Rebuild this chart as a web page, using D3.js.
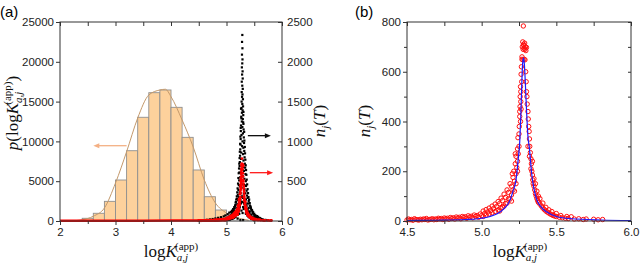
<!DOCTYPE html>
<html>
<head>
<meta charset="utf-8">
<script src="https://cdn.jsdelivr.net/npm/d3@7/dist/d3.min.js"></script>
<style>
  body { margin: 0; background: #fff; }
  svg { display: block; }
  .tick text { font-family: "Liberation Sans", Arial, sans-serif; font-size: 11.5px; fill: #222; }
  .title { font-family: "Liberation Serif", "Times New Roman", serif; font-size: 17px; fill: #111; }
</style>
</head>
<body>
<svg id="chart" width="640" height="269"></svg>
<script>
// ---- panel (a): histogram of logK (left axis) ----
var binStart = [2.4, 2.6, 2.8, 3.0, 3.2, 3.4, 3.6, 3.8, 4.0, 4.2, 4.4, 4.6, 4.8];
var binCount = [340, 970, 2470, 5150, 8830, 13030, 16120, 16460, 14280, 10510, 6410, 3050, 1380];
var binWidth = 0.2;

// fitted distribution drawn over the histogram
var fitX = [2.2, 2.4, 2.6, 2.8, 3.0, 3.2, 3.4, 3.6, 3.8, 3.9, 4.0, 4.2, 4.4, 4.6, 4.8, 5.0, 5.2, 5.4];
var fitY = [20, 150, 600, 1630, 4770, 8700, 12940, 15830, 16460, 16550, 15620, 12690, 9300, 5150, 2260, 1000, 400, 100];

// n_j(T) for all pairs, black dots (right axis)
var blackPts = [
  [5.285,2337],[5.280,2250],[5.287,2170],[5.279,2090],[5.288,2030],[5.284,1980],[5.277,1930],[5.290,1880],
  [5.281,1840],[5.292,1790],[5.275,1750],[5.284,1700],[5.293,1660],[5.274,1620],[5.288,1590],[5.280,1560],
  [5.296,1530],[5.272,1500],[5.285,1470],[5.298,1440],[5.270,1420],[5.290,1390],[5.278,1360],[5.302,1330],
  [5.266,1310],[5.294,1280],[5.276,1250],[5.305,1220],[5.262,1200],[5.286,1180],[5.308,1150],[5.258,1130],
  [5.296,1100],[5.270,1080],[5.312,1050],[5.255,1030],[5.288,1000],[5.316,980],[5.252,960],[5.280,940],
  [5.304,920],[5.248,900],[5.320,880],[5.266,860],[5.298,840],[5.244,820],[5.326,800],[5.262,780],
  [5.306,760],[5.240,740],[5.330,720],[5.275,700],[5.236,690],[5.336,670],[5.258,650],[5.314,630],
  [5.232,610],[5.342,590],[5.285,570],[5.248,550],[5.322,530],[5.228,510],[5.348,500],[5.268,480],
  [5.302,460],[5.222,450],[5.352,440],[5.258,420],[5.322,400],[5.214,390],[5.362,380],[5.238,360],
  [5.340,350],[5.205,330],[5.370,320],[5.280,310],[5.225,300],[5.380,290],[5.190,280],[5.350,270],
  [5.210,260],[5.400,250],[5.170,240],[5.310,230],[5.385,220],[5.195,210],[5.160,200],[5.420,195],
  [5.360,185],[5.140,175],[5.230,170],[5.400,165],[5.180,160],[5.440,155],[5.120,150],[5.380,145],
  [5.200,140],[5.460,135],[5.100,130],[5.150,125],[5.420,120],[5.080,115],[5.480,110],[5.050,105],
  [5.350,100],[5.130,95],[5.500,90],[5.020,85],[5.450,80],[5.180,78],[5.520,72],[4.980,70],
  [5.100,66],[5.550,62],[5.400,60],[4.950,58],[5.040,55],[5.570,52],[4.900,48],[5.480,45],
  [5.120,44],[4.850,40],[5.600,38],[5.000,36],[5.530,34],[4.800,32],[5.200,30],[5.620,28],
  [4.920,27],[4.750,25],[5.450,24],[5.650,22],[4.700,20],[5.060,19],[4.880,18],[5.580,16],
  [4.650,15],[5.700,14],[4.820,13],[5.300,12],[4.600,11],[5.750,10],[4.970,10],[4.550,8],
  [5.680,8],[4.720,7],[5.800,6],[4.500,6],[5.500,9],[4.780,9],[5.250,11],
  [5.220,120],[5.240,180],[5.260,220],[5.320,210],[5.340,160],[5.360,130],[5.300,175],[5.280,240],
  [5.250,260],[5.330,250],[5.210,150],[5.190,110],[5.170,90],[5.150,70],[5.130,60],[5.110,50],
  [5.090,42],[5.070,36],[5.050,30],[5.030,26],[5.010,22],[4.990,20],[4.960,17],[4.930,15],
  [4.890,12],[4.860,10],[4.830,8],[4.790,6],[5.370,105],[5.390,85],[5.410,70],[5.430,58],
  [5.460,48],[5.490,40],[5.510,33],[5.540,27],[5.560,22],[5.590,18],[5.630,13],[5.660,10],
  [5.720,7],[5.230,90],[5.270,130],[5.290,100],[5.310,150],[5.350,90],[5.200,75],[5.160,52],
  [5.140,40],[5.120,32],[5.100,28],[5.080,24],[5.060,20],[5.040,16],[5.020,14],[5.380,65],
  [5.400,50],[5.420,40],[5.440,34],[5.470,28],[5.520,20],[5.550,15],[5.610,11],
  [5.262,1410],[5.305,1370],[5.268,1290],[5.300,1240],[5.256,1170],[5.318,1120],[5.250,1060],[5.322,1010],
  [5.246,970],[5.330,930],[5.240,870],[5.334,850],[5.236,790],[5.340,770],[5.230,720],[5.346,700],
  [5.226,660],[5.352,640],[5.220,600],[5.358,580],[5.214,540],[5.364,520],[5.208,470],[5.372,460],
  [5.200,410],[5.380,400],[5.194,360],[5.388,350],[5.186,310],[5.396,300],[5.176,270],[5.408,270],
  [5.166,230],[5.418,225],[5.156,190],[5.430,185],[5.146,160],[5.438,170],[5.132,135],[5.452,140],
  [5.118,112],[5.466,118],[5.104,96],[5.476,98],[5.090,82],[5.490,80],[5.074,70],[5.506,66],
  [5.060,58],[5.522,55],[5.044,48],[5.540,44],[5.028,40],[5.560,34],[5.010,34],[5.580,28],
  [5.236,230],[5.262,300],[5.296,290],[5.318,280],[5.344,220],[5.212,200],[5.226,140],[5.356,200],
  [5.186,120],[5.374,150],[5.170,110],[5.394,120],[5.158,85],[5.412,100],[5.140,88],[5.432,80],
  [5.254,350],[5.272,420],[5.312,340],[5.244,440],[5.326,450],[5.296,560],[5.264,600],[5.300,680]
];

// near-zero n_j(T) over the whole range (red band along the axis in (a))
var redBaseX = [2.0, 2.5, 3.0, 3.5, 4.0, 4.5, 5.0];
var redBaseY = [3, 3, 4, 4, 5, 5, 8];

// ---- panel (b): n_j(T) from simulation (red circles) and fit (blue) ----
var redPts = [
  [4.50,4],[4.51,8],[4.52,5],[4.53,6],[4.54,3],[4.55,9],[4.56,6],[4.57,5],[4.58,4],[4.59,7],
  [4.60,5],[4.61,8],[4.62,6],[4.63,10],[4.64,4],[4.65,6],[4.66,7],[4.67,9],[4.68,5],[4.69,8],
  [4.70,6],[4.71,11],[4.72,8],[4.73,10],[4.74,6],[4.75,12],[4.76,9],[4.77,11],[4.78,7],[4.79,14],
  [4.80,10],[4.81,13],[4.82,8],[4.83,16],[4.84,12],[4.85,15],[4.86,9],[4.87,18],[4.88,14],[4.89,17],
  [4.90,11],[4.91,21],[4.92,16],[4.93,19],[4.94,13],[4.95,24],[4.96,19],[4.97,22],[4.98,15],[4.99,28],
  [5.00,22],[5.01,18],[5.01,40],[5.02,30],[5.03,24],[5.03,46],[5.04,36],[5.05,28],[5.05,52],[5.06,42],
  [5.07,33],[5.07,60],[5.08,50],[5.09,38],[5.09,68],[5.10,58],[5.11,45],[5.11,78],[5.12,70],[5.13,52],
  [5.13,92],[5.14,82],[5.15,60],[5.15,108],[5.16,95],[5.17,72],[5.17,125],[5.18,115],[5.19,88],[5.19,150],
  [5.20,140],[5.20,105],[5.21,175],[5.21,125],[5.215,200],[5.22,160],[5.225,230],[5.23,190],[5.23,260],
  [5.235,215],[5.24,290],[5.24,240],[5.243,335],[5.245,270],[5.25,350],[5.25,300],[5.252,380],[5.255,420],
  [5.255,440],[5.257,460],[5.258,500],[5.26,400],[5.26,540],[5.262,480],[5.262,520],[5.264,590],[5.264,450],
  [5.266,620],[5.268,560],[5.27,650],[5.272,700],[5.275,720],[5.278,690],[5.28,710],[5.283,705],[5.285,695],
  [5.288,715],[5.29,690],[5.293,700],[5.296,685],[5.30,698],[5.279,784],[5.27,660],[5.276,648],[5.284,650],
  [5.29,648],[5.295,600],[5.298,560],[5.30,520],[5.303,500],[5.305,470],[5.31,440],[5.312,410],[5.315,380],
  [5.318,360],[5.32,330],[5.322,300],[5.326,275],[5.33,250],[5.333,230],[5.336,200],[5.34,185],[5.342,165],
  [5.345,150],[5.35,140],[5.355,125],[5.36,110],[5.365,100],[5.37,90],[5.375,82],[5.38,75],[5.39,68],
  [5.40,60],[5.41,52],[5.42,46],[5.43,40],[5.44,36],[5.45,32],[5.46,28],[5.47,25],[5.48,22],[5.49,20],
  [5.50,18],[5.52,15],[5.54,13],[5.56,11],[5.58,10],[5.60,17],[5.62,8],[5.65,9],[5.68,6],[5.70,8],
  [5.75,7],[5.78,5],[5.81,6],[5.31,300],[5.32,260],[5.33,210],[5.34,240],[5.35,170],[5.36,150],[5.37,120],
  [5.38,100],[5.39,90],[5.41,72],[5.43,55],[5.45,45],[5.47,38],[5.50,30],[5.53,22],[5.57,18],
  [5.12,40],[5.14,55],[5.16,70],[5.18,90],[5.20,80],[5.22,120],[5.23,150],[5.24,200],[5.205,190],[5.225,270]
];
var fitBX = [4.5, 4.7, 4.9, 5.0, 5.05, 5.1, 5.15, 5.19, 5.21, 5.23, 5.245, 5.255, 5.262, 5.268, 5.274, 5.28,
             5.286, 5.292, 5.3, 5.31, 5.32, 5.335, 5.35, 5.37, 5.4, 5.435, 5.5, 5.6, 5.8, 6.0];
var fitBY = [2, 3, 6, 11, 17, 28, 50, 84, 120, 165, 250, 320, 420, 540, 630, 656,
             630, 560, 450, 340, 290, 190, 130, 84, 55, 37, 18, 9, 4, 2];

var aXTicks = [2, 3, 4, 5, 6], aXMinor = [2.5, 3.5, 4.5, 5.5];
var aLTicks = [0, 5000, 10000, 15000, 20000, 25000];
var aRTicks = [0, 500, 1000, 1500, 2000, 2500];
var bXTicks = [4.5, 5.0, 5.5, 6.0], bXMinor = [4.75, 5.25, 5.75];
var bYTicks = [0, 200, 400, 600, 800], bYMinor = [100, 300, 500, 700];

var svg = d3.select("#chart");

var xA = d3.scaleLinear().domain([2, 6]).range([60, 282]);
var yL = d3.scaleLinear().domain([0, 25000]).range([221, 22]);
var yR = d3.scaleLinear().domain([0, 2500]).range([221, 22]);

var xB = d3.scaleLinear().domain([4.5, 6.0]).range([407, 631]);
var yB = d3.scaleLinear().domain([0, 800]).range([221, 22]);

var axisStyle = function(g) {
    g.select(".domain").remove();
    g.selectAll(".tick line").attr("stroke", "#333");
    g.attr("font-family", null).attr("font-size", null);
}

var put = function(axis, tx, ty) {
    svg.append("g").attr("transform", "translate(" + tx + "," + ty + ")").call(axis).call(axisStyle);
}

// ---- panel (a) marks ----
var ga = svg.append("g");
ga.selectAll("rect.bar").data(binStart).enter()
    .append("rect")
    .attr("class", "bar")
    .attr("x", function(d) { return xA(d); })
    .attr("width", function(d) { return xA(d + binWidth) - xA(d); })
    .attr("y", function(d, i) { return yL(binCount[i]); })
    .attr("height", function(d, i) { return yL(0) - yL(binCount[i]); })
    .attr("fill", "#fdd19c")
    .attr("stroke", "#8f8f8f")
    .attr("stroke-width", 0.9);

ga.append("path")
    .datum(fitX.map(function(d, i) { return [d, fitY[i]]; }))
    .attr("fill", "none")
    .attr("stroke", "#c4996b")
    .attr("stroke-width", 1)
    .attr("d", d3.line().curve(d3.curveMonotoneX)
        .x(function(d) { return xA(d[0]); })
        .y(function(d) { return yL(d[1]); }));

ga.selectAll("rect.blk").data(blackPts).enter()
    .append("rect")
    .attr("class", "blk")
    .attr("x", function(d) { return xA(d[0]) - 1.1; })
    .attr("y", function(d) { return yR(d[1]) - 1.1; })
    .attr("width", 2.2).attr("height", 2.2)
    .attr("fill", "#000");

ga.append("path")
    .datum(redBaseX.map(function(d, i) { return [d, redBaseY[i]]; }))
    .attr("fill", "none")
    .attr("stroke", "#ff0000")
    .attr("stroke-width", 2.5)
    .attr("d", d3.line()
        .x(function(d) { return xA(d[0]); })
        .y(function(d) { return yR(d[1]); }));

ga.selectAll("circle.red").data(redPts).enter()
    .append("circle")
    .attr("class", "red")
    .attr("cx", function(d) { return xA(d[0]); })
    .attr("cy", function(d) { return yR(d[1]); })
    .attr("r", 1.4)
    .attr("fill", "#ff0000");

// arrows pointing to the relevant axis
var arrow = function(x1, x2, y, color) {
    var dir = x2 > x1 ? 1 : -1;
    svg.append("line")
        .attr("x1", x1).attr("x2", x2 - dir * 5).attr("y1", y).attr("y2", y)
        .attr("stroke", color).attr("stroke-width", 1.3);
    svg.append("path")
        .attr("d", "M" + x2 + "," + y + "L" + (x2 - dir * 6) + "," + (y - 2.5) + "L" + (x2 - dir * 6) + "," + (y + 2.5) + "Z")
        .attr("fill", color);
}
arrow(xA(3.2), xA(2.6), yL(9460), "#f4b084");
arrow(xA(5.385), xA(5.80), yR(1072), "#111");
arrow(xA(5.42), xA(5.84), yR(607), "#ff1a1a");

svg.append("rect").attr("x", 60).attr("y", 22).attr("width", 222).attr("height", 199)
    .attr("fill", "none").attr("stroke", "#333").attr("stroke-width", 1);

put(d3.axisBottom(xA).tickValues(aXTicks).tickSize(4).tickPadding(3).tickFormat(d3.format("d")), 0, 221);
put(d3.axisBottom(xA).tickValues(aXMinor).tickSize(3).tickFormat(""), 0, 221);
put(d3.axisTop(xA).tickValues(aXTicks.concat(aXMinor)).tickSize(-4).tickFormat(""), 0, 22);
put(d3.axisLeft(yL).tickValues(aLTicks).tickSize(4).tickPadding(2).tickFormat(d3.format("d")), 60, 0);
put(d3.axisRight(yR).tickValues(aRTicks).tickSize(-4).tickPadding(5).tickFormat(d3.format("d")), 282, 0);

// ---- panel (b) marks ----
var gb = svg.append("g");
gb.selectAll("circle").data(redPts).enter()
    .append("circle")
    .attr("cx", function(d) { return xB(d[0]); })
    .attr("cy", function(d) { return yB(d[1]); })
    .attr("r", 2.2)
    .attr("fill", "none")
    .attr("stroke", "#ff1010")
    .attr("stroke-width", 1);

gb.append("path")
    .datum(fitBX.map(function(d, i) { return [d, fitBY[i]]; }))
    .attr("fill", "none")
    .attr("stroke", "#1a1aff")
    .attr("stroke-width", 1.2)
    .attr("d", d3.line().curve(d3.curveMonotoneX)
        .x(function(d) { return xB(d[0]); })
        .y(function(d) { return yB(d[1]); }));

svg.append("rect").attr("x", 407).attr("y", 22).attr("width", 224).attr("height", 199)
    .attr("fill", "none").attr("stroke", "#333").attr("stroke-width", 1);

put(d3.axisBottom(xB).tickValues(bXTicks).tickSize(4).tickPadding(3).tickFormat(d3.format(".1f")), 0, 221);
put(d3.axisBottom(xB).tickValues(bXMinor).tickSize(3).tickFormat(""), 0, 221);
put(d3.axisTop(xB).tickValues(bXTicks.concat(bXMinor)).tickSize(-4).tickFormat(""), 0, 22);
put(d3.axisLeft(yB).tickValues(bYTicks).tickSize(4).tickPadding(2).tickFormat(d3.format("d")), 407, 0);
put(d3.axisLeft(yB).tickValues(bYMinor).tickSize(3).tickFormat(""), 407, 0);
put(d3.axisRight(yB).tickValues(bYTicks.concat(bYMinor)).tickSize(-3).tickFormat(""), 631, 0);

// ---- titles ----
var logK = function(t, prefix, suffix) {
    if (prefix) t.append("tspan").attr("font-style", "italic").text(prefix);
    t.append("tspan").text((prefix ? "(" : "") + "log");
    t.append("tspan").attr("font-style", "italic").text("K");
    t.append("tspan").attr("font-size", "11px").attr("dy", 4).attr("font-style", "italic").text("a,j");
    t.append("tspan").attr("font-size", "11px").attr("dy", -11).attr("dx", -13).text("(app)");
    if (suffix) t.append("tspan").attr("dy", 7).text(suffix);
}

logK(svg.append("text").attr("class", "title").attr("x", 171).attr("y", 257).attr("text-anchor", "middle"));
logK(svg.append("text").attr("class", "title").attr("x", 520).attr("y", 257).attr("text-anchor", "middle"));
logK(svg.append("text").attr("class", "title")
    .attr("transform", "translate(18,113) rotate(-90)").attr("text-anchor", "middle"), "p", ")");

var nj = function(tx, ty) {
    var t = svg.append("text").attr("class", "title")
        .attr("transform", "translate(" + tx + "," + ty + ") rotate(-90)").attr("text-anchor", "middle");
    t.append("tspan").attr("font-style", "italic").text("n");
    t.append("tspan").attr("font-style", "italic").attr("font-size", "11px").attr("dy", 4).text("j");
    t.append("tspan").attr("dy", -4).text("(");
    t.append("tspan").attr("font-style", "italic").text("T");
    t.append("tspan").text(")");
}
nj(325, 121);
nj(370, 121);

svg.append("text").attr("x", 0).attr("y", 17)
    .attr("font-family", "Liberation Sans, Arial, sans-serif").attr("font-size", "15px").text("(a)");
svg.append("text").attr("x", 355).attr("y", 17)
    .attr("font-family", "Liberation Sans, Arial, sans-serif").attr("font-size", "15px").text("(b)");
</script>
</body>
</html>
